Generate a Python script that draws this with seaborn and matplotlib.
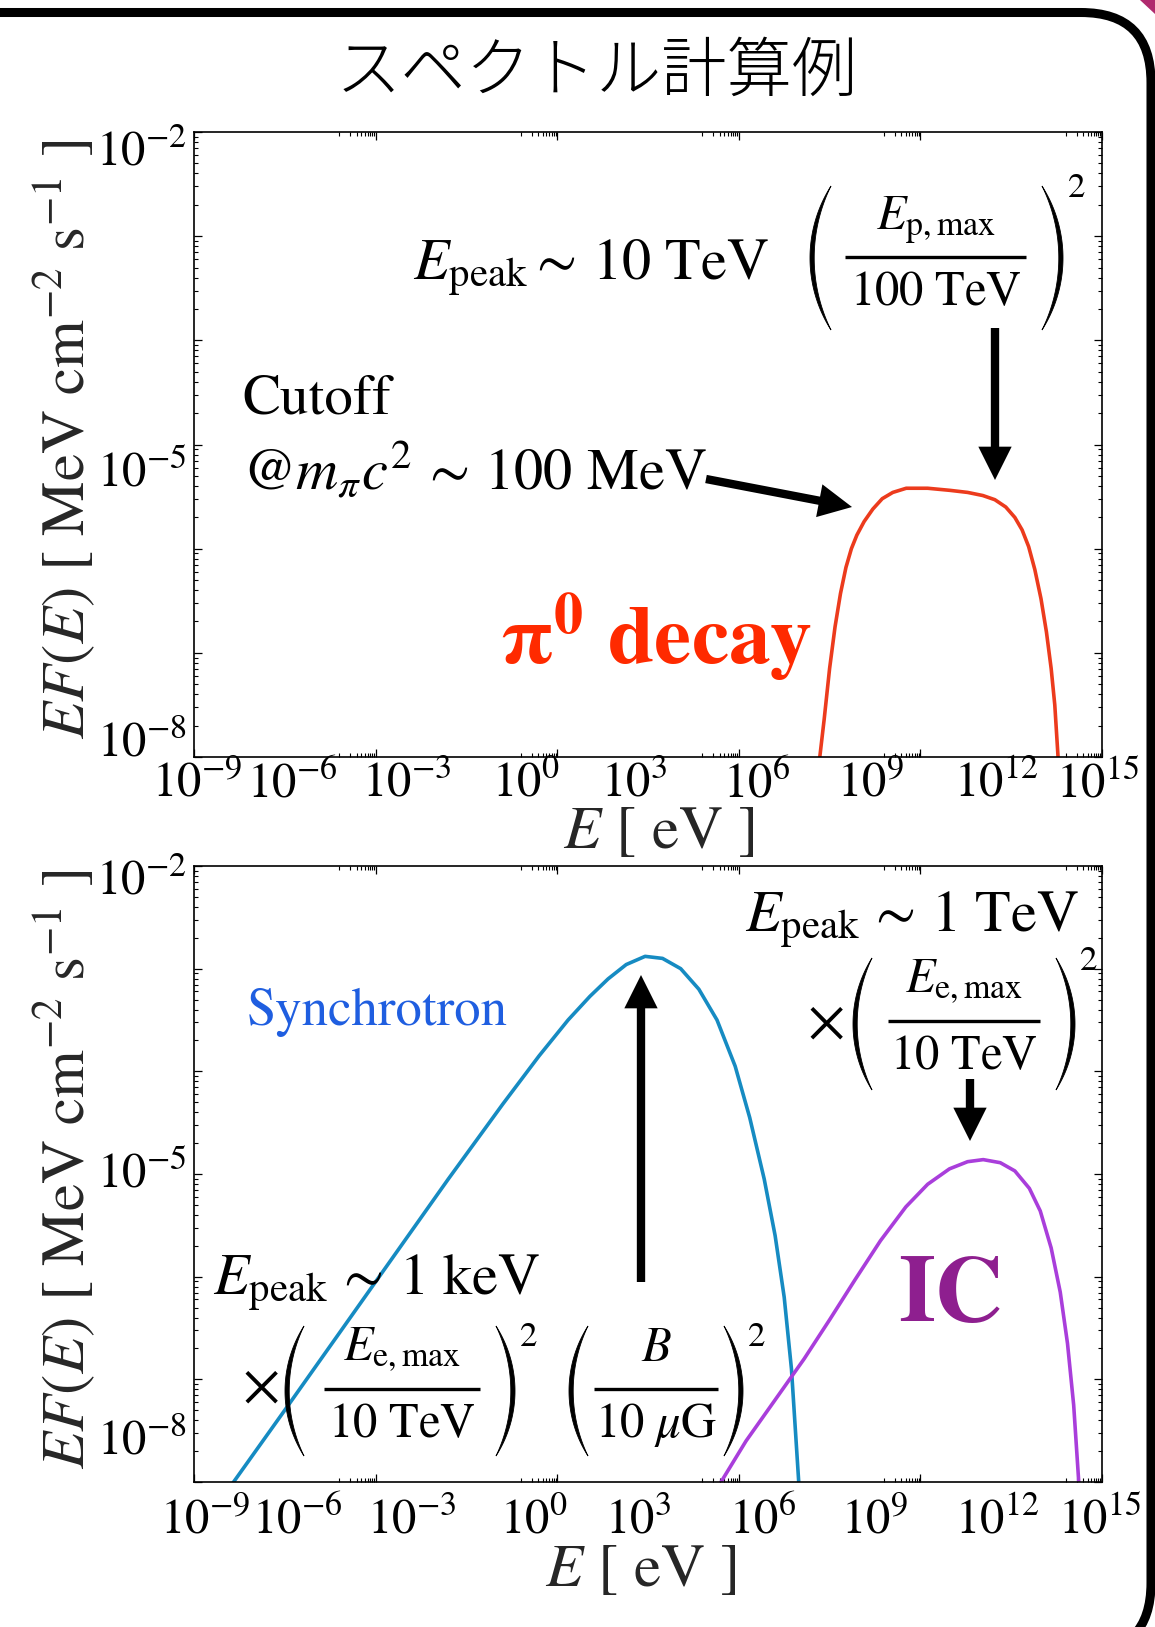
import numpy as np
import matplotlib
matplotlib.use("Agg")
import matplotlib.pyplot as plt
import seaborn as sns
from matplotlib.patches import FancyBboxPatch, FancyArrowPatch, Polygon, ArrowStyle
from matplotlib.lines import Line2D
from matplotlib.transforms import IdentityTransform
from matplotlib.ticker import FixedLocator, NullLocator, NullFormatter, LogLocator

# ---------------- data (log10 values) ----------------
PI0_LOGE = [7.15, 7.23, 7.35, 7.50, 7.65, 7.80, 7.95, 8.10, 8.25, 8.45, 8.69, 8.95, 9.24,
            9.61, 10.2, 10.81, 11.3, 11.72, 12.05, 12.35, 12.6, 12.8, 12.98, 13.15, 13.32,
            13.47, 13.6, 13.7, 13.79, 13.88]
PI0_LOGF = [-8.4, -8.0, -7.64, -7.15, -6.75, -6.43, -6.18, -6.0, -5.87, -5.74, -5.62, -5.52,
            -5.46, -5.42, -5.42, -5.44, -5.46, -5.49, -5.53, -5.6, -5.7, -5.82, -5.98, -6.2,
            -6.48, -6.8, -7.15, -7.5, -8.0, -8.4]

SYN_LOGE = [-9.2, -8.91, -7.5, -6.0, -4.5, -3.0, -1.5, -0.5, 0.3, 0.9, 1.4, 1.9, 2.42,
            2.9, 3.4, 3.9, 4.4, 4.9, 5.3, 5.7, 6.0, 6.25, 6.45, 6.65, 6.75]
SYN_LOGF = [-8.15, -8.0, -7.3, -6.55, -5.8, -5.05, -4.32, -3.85, -3.5, -3.27, -3.1, -2.96,
            -2.88, -2.9, -3.0, -3.2, -3.5, -3.95, -4.45, -5.05, -5.6, -6.2, -6.9, -8.0, -8.5]

IC_LOGE = [4.3, 4.51, 5.2, 6.0, 6.8, 7.5, 8.2, 8.9, 9.6, 10.2, 10.8, 11.3, 11.73, 12.2,
           12.6, 13.0, 13.3, 13.6, 13.85, 14.05, 14.22, 14.36, 14.45]
IC_LOGF = [-8.1, -8.0, -7.6, -7.2, -6.8, -6.42, -6.03, -5.65, -5.32, -5.1, -4.95, -4.88,
           -4.86, -4.89, -4.97, -5.14, -5.36, -5.72, -6.15, -6.65, -7.25, -8.0, -8.5]

XTICK_LABELS = [r"$10^{-9}$", r"$10^{-6}$", r"$10^{-3}$", r"$10^{0}$", r"$10^{3}$",
                r"$10^{6}$", r"$10^{9}$", r"$10^{12}$", r"$10^{15}$"]
YTICK_LABELS = [r"$10^{-2}$", r"$10^{-5}$", r"$10^{-8}$"]

X_MAJOR_EXP = [-10, -5, 0, 5, 10, 15]
XLIM_EXP = (-10, 15)
YLIM_EXP = (-8, -2)

# ---------------- layout (pixels) ----------------
W, H, DPI = 1155, 1627, 100
AX_L, AX_R = 194, 1102
TOP1, BOT1 = 132, 757
TOP2, BOT2 = 866, 1482
XLAB_PX_1 = [197, 292, 407, 526, 634, 757, 871, 996, 1098]
XLAB_PX_2 = [205, 297, 412, 534, 638, 763, 875, 997, 1100]
YLAB_PX_1 = [148, 469, 739]
YLAB_PX_2 = [877, 1170, 1437]

RED_LINE = "#ec3b1d"
RED_TEXT = "#ff2a00"
BLUE_LINE = "#168bc2"
BLUE_TEXT = "#1f5ee0"
IC_LINE = "#a93edb"
IC_TEXT = "#8e1f8f"

sns.set_theme(style="ticks")
plt.rcParams["font.family"] = ["STIXGeneral", "Noto Sans CJK JP", "DejaVu Sans"]
plt.rcParams["mathtext.fontset"] = "stix"
plt.rcParams["axes.edgecolor"] = "black"
plt.rcParams["xtick.color"] = "black"
plt.rcParams["ytick.color"] = "black"
plt.rcParams["text.color"] = "black"

fig = plt.figure(figsize=(W / DPI, H / DPI), dpi=DPI)
fig.patch.set_facecolor("white")


def fx(px):
    return px / W


def fy(py):
    return 1 - py / H


def px_to_E(px):
    return 10 ** (XLIM_EXP[0] + (px - AX_L) / (AX_R - AX_L) * (XLIM_EXP[1] - XLIM_EXP[0]))


def px_to_F(py, top, bot):
    return 10 ** (YLIM_EXP[1] - (py - top) / (bot - top) * (YLIM_EXP[1] - YLIM_EXP[0]))


def setup_axes(ax, top, bot, xlab_px, ylab_px, xpad):
    ax.set_xscale("log")
    ax.set_yscale("log")
    ax.set_xlim(10.0 ** XLIM_EXP[0], 10.0 ** XLIM_EXP[1])
    ax.set_ylim(10.0 ** YLIM_EXP[0], 10.0 ** YLIM_EXP[1])
    ax.xaxis.set_major_locator(FixedLocator([10.0 ** k for k in X_MAJOR_EXP]))
    minors = [m * 10.0 ** (k - 1) for k in X_MAJOR_EXP[1:] for m in range(1, 10)]
    ax.xaxis.set_minor_locator(FixedLocator(minors))
    ax.yaxis.set_major_locator(LogLocator(base=10, numticks=20))
    ax.yaxis.set_minor_locator(LogLocator(base=10, subs=np.arange(2, 10), numticks=20))
    for a in (ax.xaxis, ax.yaxis):
        a.set_major_formatter(NullFormatter())
        a.set_minor_formatter(NullFormatter())
    ax.tick_params(which="both", direction="in", top=True, right=True,
                   labelbottom=False, labelleft=False, color="black")
    ax.tick_params(which="major", length=6, width=0.9)
    ax.tick_params(which="minor", length=3, width=0.8)
    for s in ax.spines.values():
        s.set_linewidth(1.2)
        s.set_color("black")
    ax.set_facecolor("white")

    sx = ax.secondary_xaxis("bottom")
    sx.set_xticks([px_to_E(p) for p in xlab_px], XTICK_LABELS)
    sx.xaxis.set_minor_locator(NullLocator())
    sx.tick_params(which="both", length=0, pad=xpad, labelsize=35)
    sx.spines["bottom"].set_visible(False)

    sy = ax.secondary_yaxis("left")
    sy.set_yticks([px_to_F(p, top, bot) for p in ylab_px], YTICK_LABELS)
    sy.yaxis.set_minor_locator(NullLocator())
    sy.tick_params(which="both", length=0, pad=5, labelsize=35)
    sy.spines["left"].set_visible(False)
    return sx, sy


ax1 = fig.add_axes([fx(AX_L), fy(BOT1), (AX_R - AX_L) / W, (BOT1 - TOP1) / H])
ax2 = fig.add_axes([fx(AX_L), fy(BOT2), (AX_R - AX_L) / W, (BOT2 - TOP2) / H])

sns.lineplot(x=10 ** np.array(PI0_LOGE), y=10 ** np.array(PI0_LOGF), ax=ax1,
             color=RED_LINE, lw=2.6, estimator=None, sort=False, legend=False)
sns.lineplot(x=10 ** np.array(SYN_LOGE), y=10 ** np.array(SYN_LOGF), ax=ax2,
             color=BLUE_LINE, lw=2.6, estimator=None, sort=False, legend=False)
sns.lineplot(x=10 ** np.array(IC_LOGE), y=10 ** np.array(IC_LOGF), ax=ax2,
             color=IC_LINE, lw=2.6, estimator=None, sort=False, legend=False)

setup_axes(ax1, TOP1, BOT1, XLAB_PX_1, YLAB_PX_1, 4)
setup_axes(ax2, TOP2, BOT2, XLAB_PX_2, YLAB_PX_2, 12)

ylabel = r"$EF(E)$ [ MeV cm$^{-2}$ s$^{-1}$ ]"
xlabel = r"$E$ [ eV ]"
for ax, top, bot, xc, yc_x in ((ax1, TOP1, BOT1, 659, 834), (ax2, TOP2, BOT2, 641, 1572)):
    ax.set_ylabel(ylabel, fontsize=44, va="center", ha="center")
    ax.set_xlabel(xlabel, fontsize=44, va="center", ha="center")
    ax.yaxis.set_label_coords((64 - AX_L) / (AX_R - AX_L), (bot - (top + bot) / 2 + 5) / (bot - top))
    ax.xaxis.set_label_coords((xc - AX_L) / (AX_R - AX_L), (bot - yc_x) / (bot - top))


# ---------------- helpers for hand-set fractions ----------------
def paren(x_ext, ytop, ybot, side, sag=21, thick=4.2):
    """TeX-like tall parenthesis as a filled crescent (pixel coords, y down)."""
    h = ybot - ytop
    ymid = (ytop + ybot) / 2
    t = np.linspace(-1, 1, 80)
    yy = ymid + t * h / 2

    def arc(x0, s):
        R = ((h / 2) ** 2 + s ** 2) / (2 * s)
        return x0 + (R - np.sqrt(R ** 2 - (t * h / 2) ** 2))

    outer = arc(0, sag)
    inner = arc(thick, sag - thick)
    if side == "left":
        xo, xi = x_ext + outer, x_ext + inner
    else:
        xo, xi = x_ext - outer, x_ext - inner
    pts = np.column_stack([np.concatenate([xo, xi[::-1]]),
                           H - np.concatenate([yy, yy[::-1]])])
    fig.add_artist(Polygon(pts, closed=True, transform=IdentityTransform(),
                           fc="black", ec="black", lw=0.6))


def fraction(num, den, cx, ybar, x0, x1, fs=35, up=28, down=48):
    fig.add_artist(Line2D([fx(x0), fx(x1)], [fy(ybar), fy(ybar)], transform=fig.transFigure,
                          lw=2.4, color="black", solid_capstyle="butt"))
    fig.text(fx(cx), fy(ybar - up), num, ha="center", va="baseline", fontsize=fs)
    fig.text(fx(cx), fy(ybar + down), den, ha="center", va="baseline", fontsize=fs)


def sup2(x, ytop, fs=25):
    fig.text(fx(x), fy(ytop), "2", ha="left", va="top", fontsize=fs)


# ---------------- title ----------------
fig.text(fx(597), fy(73), "スペクトル計算例", ha="center", va="center", fontsize=47,
         fontweight="light", family=["Noto Sans CJK JP", "DejaVu Sans"])

# ---------------- annotations: top panel ----------------
fig.text(fx(413), fy(268), r"$E_{\rm peak}\sim\,10\ {\rm TeV}$", ha="left", va="center",
         fontsize=42)
paren(810, 186, 330, "left")
fraction(r"$E_{\rm p,max}$", r"$100\ {\rm TeV}$", 936, 257, 845, 1026)
paren(1063, 186, 330, "right")
sup2(1068, 173)

fig.text(fx(242), fy(400), "Cutoff", ha="left", va="center", fontsize=41)
fig.text(fx(242), fy(472), r"@$m_{\pi}c^2\,\sim\,100\ {\rm MeV}$", ha="left", va="center",
         fontsize=42)
fig.text(fx(656), fy(638), r"$\mathbf{\pi}^{\mathbf{0}}$ decay", ha="center", va="center",
         fontsize=60, fontweight="bold", color=RED_TEXT)

# ---------------- annotations: bottom panel ----------------
fig.text(fx(745), fy(920), r"$E_{\rm peak}\,\sim\,1\ {\rm TeV}$", ha="left", va="center",
         fontsize=42)
fig.text(fx(825), fy(1024), r"$\times$", ha="center", va="center", fontsize=42)
paren(853, 958, 1090, "left", sag=19)
fraction(r"$E_{\rm e,max}$", r"$10\ {\rm TeV}$", 964, 1021, 888, 1040)
paren(1075, 958, 1090, "right", sag=19)
sup2(1080, 946)

fig.text(fx(247), fy(1012), "Synchrotron", ha="left", va="center", fontsize=38, color=BLUE_TEXT)
fig.text(fx(951), fy(1298), "IC", ha="center", va="center", fontsize=68, fontweight="bold",
         color=IC_TEXT)

fig.text(fx(213), fy(1283), r"$E_{\rm peak}\,\sim\,1\ {\rm keV}$", ha="left", va="center",
         fontsize=42)
fig.text(fx(260), fy(1388), r"$\times$", ha="center", va="center", fontsize=42)
paren(285, 1326, 1456, "left", sag=19)
fraction(r"$E_{\rm e,max}$", r"$10\ {\rm TeV}$", 402, 1389, 324, 480)
paren(515, 1326, 1456, "right", sag=19)
sup2(520, 1322)
paren(569, 1326, 1456, "left", sag=19)
fraction(r"$B$", r"$10\ \mu{\rm G}$", 656, 1389, 594, 718)
paren(743, 1326, 1456, "right", sag=19)
sup2(748, 1322)

# ---------------- arrows ----------------
style = ArrowStyle.Simple(head_length=1.0, head_width=1.0, tail_width=0.25)
for (x1, y1, x2, y2) in [(706, 479, 852, 507), (995, 328, 995, 480),
                         (970, 1079, 970, 1141), (641, 1282, 641, 975)]:
    arr = FancyArrowPatch((fx(x1), fy(y1)), (fx(x2), fy(y2)), transform=fig.transFigure,
                          arrowstyle=style, mutation_scale=24, color="black", lw=0,
                          shrinkA=0, shrinkB=0)
    fig.add_artist(arr)

# ---------------- slide frame ----------------
frame = FancyBboxPatch((-100, H - 1653), 1251, 1653 - 12.5,
                       boxstyle="round,pad=0,rounding_size=70",
                       transform=IdentityTransform(), fill=False, ec="black", lw=6.5)
fig.add_artist(frame)
mag = Polygon([(1140, H), (W, H), (W, H - 14)], closed=True, transform=IdentityTransform(),
              fc="#b02a6e", ec="none")
fig.add_artist(mag)

fig.savefig("out.png", dpi=DPI, facecolor="white")
